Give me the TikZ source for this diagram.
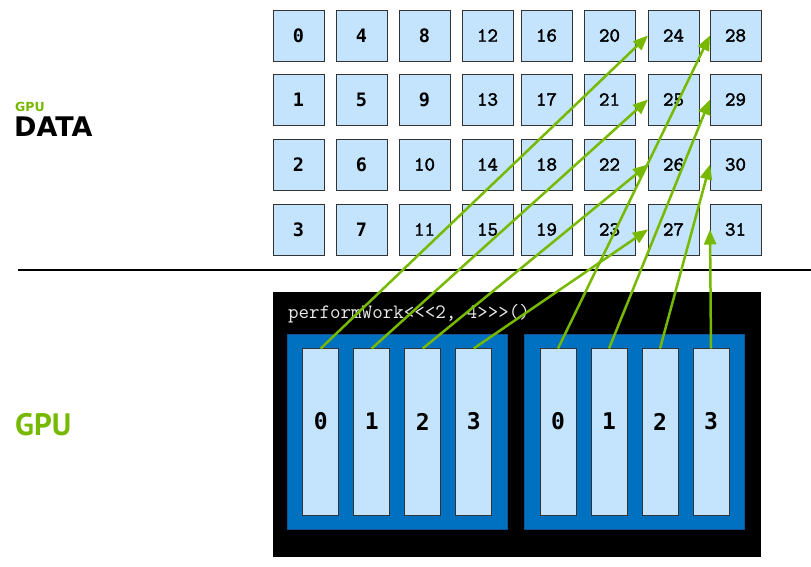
\documentclass[tikz,border=0pt]{standalone}
\usepackage{fontspec}
\newfontfamily\digitfont{DejaVu Sans Mono}
\newfontfamily\headfont{DejaVu Sans}
\newfontfamily\gpufont{PT Sans}
\newfontfamily\numfont{lmmono10-regular.otf}[FakeBold=2]
\usetikzlibrary{arrows.meta}
\definecolor{nvgreen}{RGB}{118,185,0}
\definecolor{cellblue}{RGB}{195,228,252}
\definecolor{blockblue}{RGB}{0,112,192}
\definecolor{blockedge}{RGB}{16,84,150}
\newcommand{\onedig}{\digitfont\bfseries\fontsize{18.5}{18.5}\selectfont}
\newcommand{\twodig}{\numfont\fontsize{20}{20}\selectfont}
\tikzset{
  cell/.style={draw=black!80, fill=cellblue, line width=0.9pt, minimum width=51pt, minimum height=51pt, inner sep=0pt, outer sep=0pt},
  thread/.style={draw=black!80, fill=cellblue, line width=0.9pt, minimum width=36pt, minimum height=167pt, inner sep=0pt, outer sep=0pt},
  block/.style={draw=blockedge, fill=blockblue, line width=1pt, minimum width=220pt, minimum height=195pt, inner sep=0pt},
  kernelbox/.style={fill=black, minimum width=488pt, minimum height=265pt, inner sep=0pt},
  title/.style={anchor=base west, inner sep=0pt},
  map/.style={nvgreen, line width=2.5pt, -{Triangle[length=15pt,width=12pt]}},
}
\begin{document}
\begin{tikzpicture}[x=1pt, y=-1pt]
\useasboundingbox (0,0) rectangle (811,567);
% left labels
\node[title, text=nvgreen, font=\headfont\bfseries\fontsize{12.5}{13}\selectfont] (gpusmall) at (15,111.7) {GPU};
\node[title, font=\headfont\bfseries\fontsize{27}{27}\selectfont] (datalabel) at (14,136) {DATA};
\node[title, text=nvgreen, font=\gpufont\bfseries\fontsize{31}{31}\selectfont] (gpulabel) at (15,435) {GPU};
% data cells
\foreach \c/\x in {0/273,1/336,2/399,3/462,4/521,5/584,6/648,7/710}
  \foreach \r/\y in {0/10,1/74,2/139,3/204} {
    \pgfmathtruncatemacro{\n}{4*\c+\r}
    \node[cell] (d\n) at (\x+25.5,\y+25.5) {\ifnum\n<10 \onedig\else\twodig\fi\n};
  }
\draw[line width=1.5pt] (18,270) -- (811,270);
% kernel launch
\node[kernelbox] (kernel) at (517,424.5) {};
\node[title, text=black!8, font=\ttfamily\fontsize{20.4}{21}\selectfont] (call) at (288,318.3) {performWork<<<2, 4>>>()};
\node[block] (blk0) at (397,431.5) {};
\node[block] (blk1) at (634.5,431.5) {};
\foreach \b/\xs in {0/320.7,1/558}
  \foreach \t in {0,...,3} {
    \node[thread] (t\b\t) at ({\xs+51*\t},432) {};
    \node[font=\digitfont\bfseries\fontsize{23}{23}\selectfont, inner sep=0pt] (l\b\t) at ({\xs+51*\t},421.5) {\t};
  }
% thread -> element
\foreach \t in {0,...,3} {
  \pgfmathtruncatemacro{\ea}{24+\t}
  \pgfmathtruncatemacro{\eb}{28+\t}
  \draw[map] (t0\t.north) -- (d\ea.west);
  \draw[map] (t1\t.north) -- (d\eb.west);
}
\end{tikzpicture}
\end{document}
